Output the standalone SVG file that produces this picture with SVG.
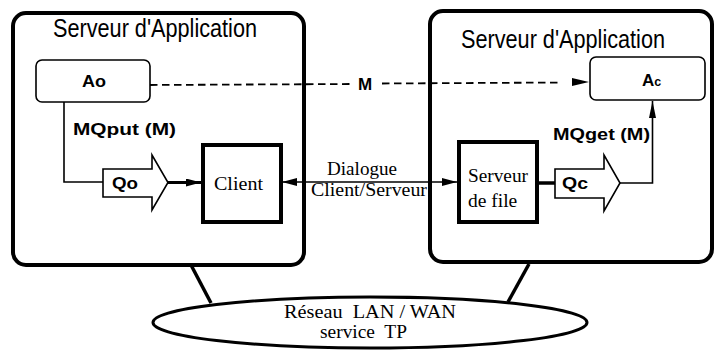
<svg xmlns="http://www.w3.org/2000/svg" width="715" height="350" viewBox="0 0 715 350">
<style>
.srv{fill:#fff;stroke:#000;stroke-width:4}
.app{fill:#fff;stroke:#000;stroke-width:1.6}
.box{fill:#fff;stroke:#000;stroke-width:4}
.q{fill:#fff;stroke:#000;stroke-width:1.6}
.title{font-family:"Liberation Sans",Arial,sans-serif;font-size:26.5px;fill:#000}
.b{font-family:"Liberation Sans",Arial,sans-serif;font-weight:bold;font-size:17px;fill:#000}
.s{font-family:"Liberation Serif","Times New Roman",serif;font-size:19.5px;fill:#000}
.ln{fill:none;stroke:#000;stroke-width:1.6}
.thick{fill:none;stroke:#000;stroke-width:3.5}
.dash{fill:none;stroke:#000;stroke-width:1.8;stroke-dasharray:7.5 4.5}
</style>
<defs>
<marker id="ah" markerUnits="userSpaceOnUse" markerWidth="15" markerHeight="8" refX="15" refY="4" orient="auto-start-reverse">
<path d="M0,0 L15,4 L0,8 z" fill="#000"/>
</marker>
<marker id="ahs" markerUnits="userSpaceOnUse" markerWidth="17" markerHeight="8" refX="17" refY="4" orient="auto">
<path d="M0,0.5 L17,4 L0,7.5 z" fill="#000"/>
</marker>
</defs>
<rect width="715" height="350" fill="#fff"/>

<g id="serveur-app-gauche">
<rect class="srv" x="13" y="13" width="291" height="252" rx="13"/>
<text class="title" x="53" y="37" textLength="204" lengthAdjust="spacingAndGlyphs">Serveur d'Application</text>
</g>
<g id="serveur-app-droite">
<rect class="srv" x="430" y="11" width="282" height="251" rx="13"/>
<text class="title" x="461" y="48" textLength="204" lengthAdjust="spacingAndGlyphs">Serveur d'Application</text>
</g>

<g id="reseau">
<ellipse cx="370" cy="322.5" rx="217" ry="25.5" fill="#fff" stroke="#000" stroke-width="3"/>
<text class="s" x="284" y="318" xml:space="preserve" textLength="172" lengthAdjust="spacingAndGlyphs">Réseau  LAN / WAN</text>
<text class="s" x="320" y="338" xml:space="preserve" textLength="87" lengthAdjust="spacingAndGlyphs">service  TP</text>
</g>

<g id="connecteurs">
<line class="thick" x1="191" y1="265" x2="211" y2="303"/>
<line class="thick" x1="529" y1="264" x2="508" y2="302"/>
<polyline class="ln" points="64,102 64,182 103,182"/>
<line x1="168" y1="182.5" x2="201" y2="182.5" stroke="#000" stroke-width="3" marker-end="url(#ah)"/>
<line class="ln" x1="282" y1="182" x2="457" y2="182" marker-start="url(#ah)" marker-end="url(#ah)"/>
<line class="thick" x1="537" y1="183" x2="555" y2="183"/>
<polyline class="ln" points="620,183 652.5,183 652.5,101" marker-end="url(#ahs)"/>
<line class="dash" x1="150" y1="85" x2="352" y2="84"/>
<line class="dash" x1="382" y1="83.5" x2="562" y2="82.5"/>
<polygon points="572,78 589,82 572,86" fill="#000"/>
<text class="b" x="358" y="89.5" font-size="18">M</text>
<text class="b" x="73" y="135" textLength="103" lengthAdjust="spacingAndGlyphs">MQput (M)</text>
<text class="b" x="553" y="140" textLength="97" lengthAdjust="spacingAndGlyphs">MQget (M)</text>
<text class="s" x="327" y="175" textLength="70" lengthAdjust="spacingAndGlyphs">Dialogue</text>
<text class="s" x="311" y="196" textLength="116" lengthAdjust="spacingAndGlyphs">Client/Serveur</text>
</g>

<g id="Ao">
<rect class="app" x="36" y="60" width="114" height="42" rx="6"/>
<text class="b" x="82" y="87" textLength="24" lengthAdjust="spacingAndGlyphs">Ao</text>
</g>
<g id="Ac">
<rect class="app" x="590" y="57" width="115" height="43" rx="6"/>
<text class="b" x="642" y="86">A<tspan font-size="12.5">c</tspan></text>
</g>
<g id="Qo">
<polygon class="q" points="103,169 152,169 152,155 168,182.5 152,210 152,197 103,197"/>
<text class="b" x="112" y="188.5" textLength="26" lengthAdjust="spacingAndGlyphs">Qo</text>
</g>
<g id="Qc">
<polygon class="q" points="555,169 604,169 604,155 620,183 604,211 604,198 555,198"/>
<text class="b" x="562" y="189" textLength="26" lengthAdjust="spacingAndGlyphs">Qc</text>
</g>
<g id="Client">
<rect class="box" x="203" y="145" width="78" height="77"/>
<text class="s" x="214" y="190" textLength="49" lengthAdjust="spacingAndGlyphs">Client</text>
</g>
<g id="ServeurDeFile">
<rect class="box" x="459" y="142" width="78" height="80"/>
<text class="s" x="468" y="182" textLength="60" lengthAdjust="spacingAndGlyphs">Serveur</text>
<text class="s" x="468" y="207">de file</text>
</g>
</svg>
